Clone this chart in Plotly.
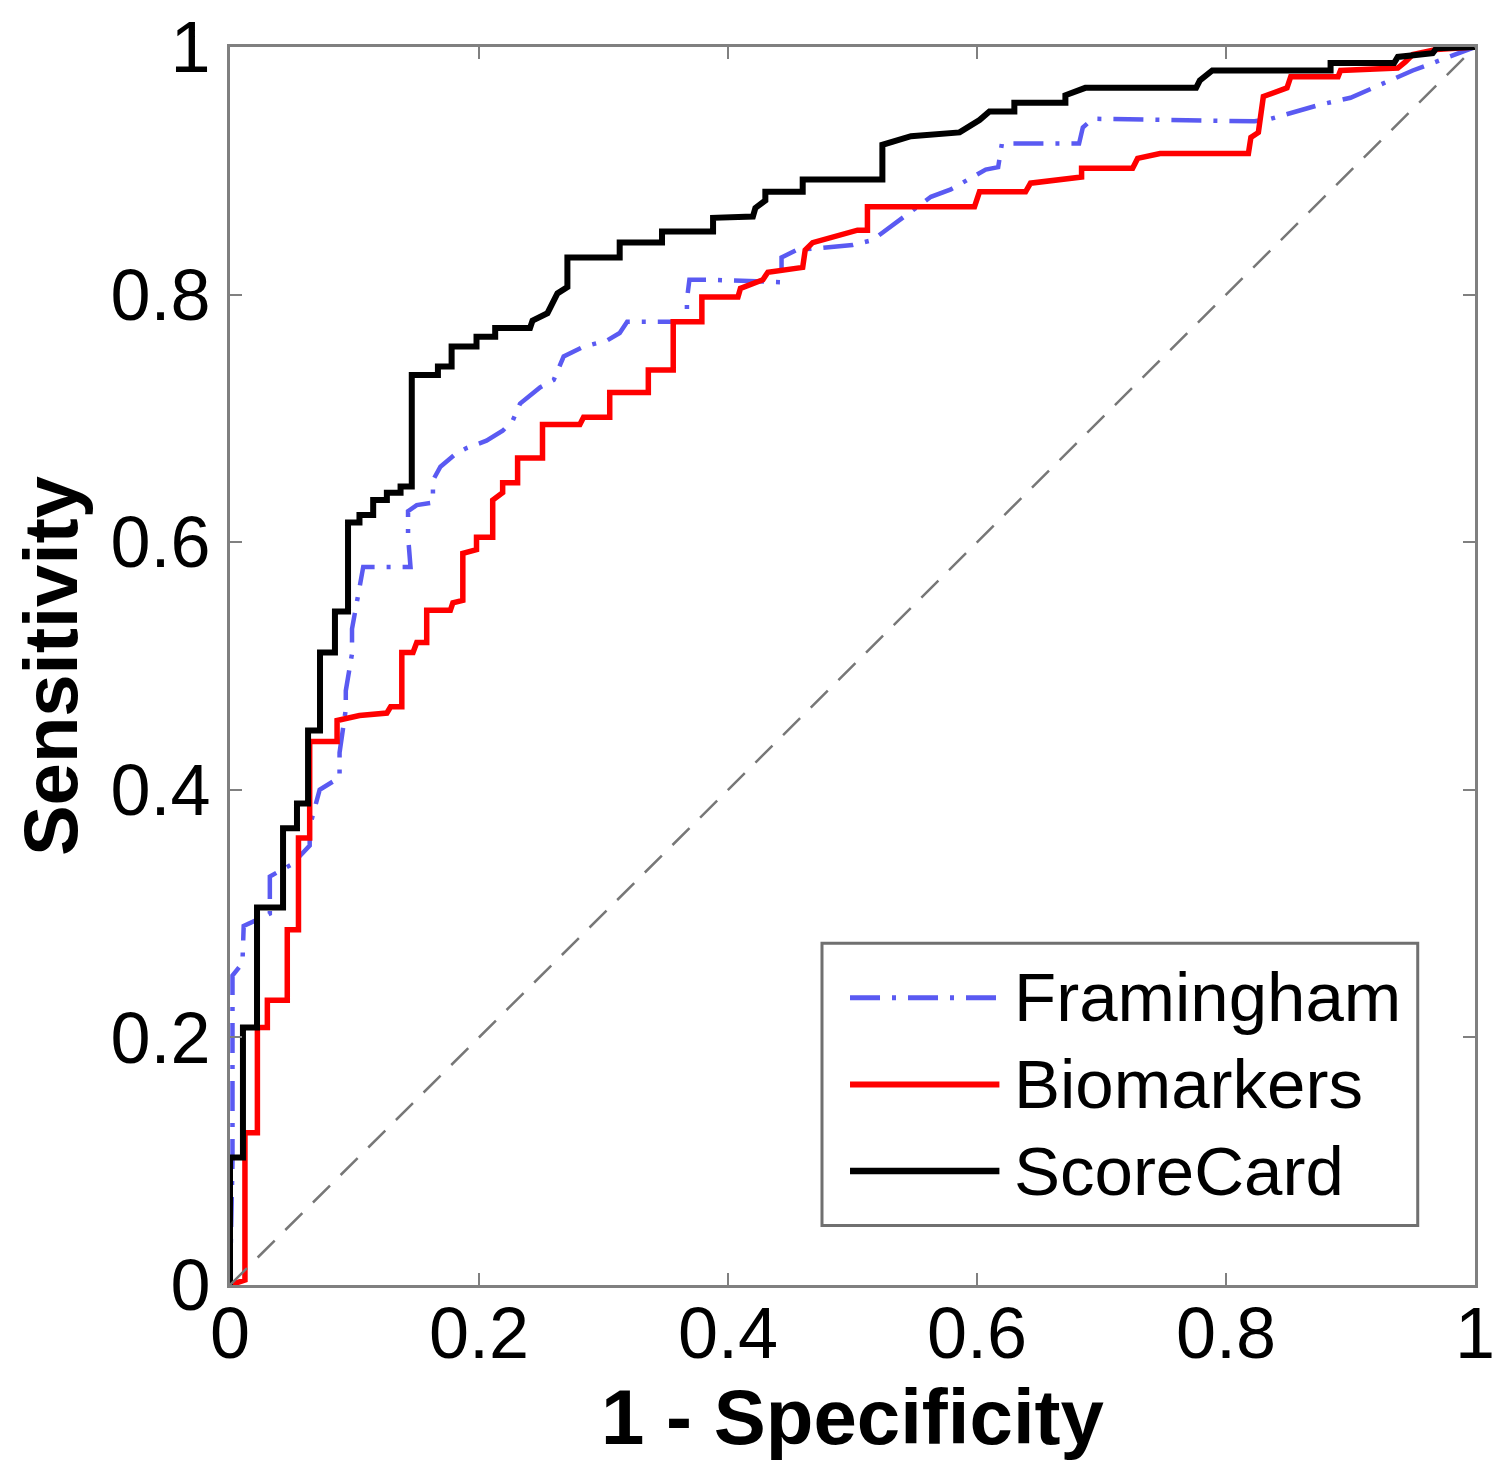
import plotly.graph_objs as go

# ROC curves (1 - specificity, sensitivity)
framingham_x = [0, 0.002, 0.002, 0.010, 0.011, 0.032, 0.032, 0.050, 0.064, 0.064, 0.072, 0.088, 0.088,
                0.093, 0.093, 0.098, 0.098, 0.107, 0.145, 0.143, 0.143, 0.150, 0.163, 0.163, 0.169,
                0.182, 0.190, 0.206, 0.219, 0.227, 0.233, 0.249, 0.260, 0.268, 0.284, 0.303, 0.313,
                0.319, 0.367, 0.367, 0.369, 0.386, 0.443, 0.443, 0.455, 0.500, 0.516, 0.538, 0.563,
                0.579, 0.593, 0.607, 0.617, 0.620, 0.682, 0.685, 0.693, 0.823, 0.836, 0.849, 0.874,
                0.900, 0.932, 0.950, 1]
framingham_y = [0, 0.10, 0.25, 0.26, 0.29, 0.30, 0.33, 0.34, 0.355, 0.37, 0.40, 0.41, 0.43,
                0.465, 0.48, 0.51, 0.53, 0.58, 0.58, 0.605, 0.625, 0.63, 0.632, 0.65, 0.661,
                0.672, 0.676, 0.682, 0.690, 0.698, 0.712, 0.725, 0.731, 0.750, 0.758, 0.763, 0.769,
                0.778, 0.778, 0.796, 0.812, 0.812, 0.810, 0.830, 0.836, 0.840, 0.844, 0.860, 0.879,
                0.885, 0.893, 0.901, 0.903, 0.922, 0.922, 0.935, 0.942, 0.940, 0.942, 0.946, 0.953,
                0.959, 0.973, 0.981, 1]

biomarkers_x = [0, 0.012, 0.012, 0.022, 0.022, 0.030, 0.030, 0.046, 0.046, 0.055, 0.055, 0.064, 0.064,
                0.086, 0.086, 0.104, 0.126, 0.129, 0.138, 0.138, 0.147, 0.150, 0.158, 0.158, 0.177,
                0.179, 0.187, 0.187, 0.198, 0.198, 0.211, 0.211, 0.219, 0.219, 0.231, 0.231, 0.251,
                0.251, 0.281, 0.284, 0.305, 0.305, 0.336, 0.336, 0.356, 0.356, 0.379, 0.379, 0.408,
                0.410, 0.428, 0.432, 0.460, 0.462, 0.468, 0.496, 0.504, 0.512, 0.512, 0.598, 0.602,
                0.639, 0.643, 0.684, 0.684, 0.725, 0.729, 0.747, 0.818, 0.820, 0.826, 0.830, 0.849,
                0.852, 0.890, 0.892, 0.938, 0.944, 0.950, 0.969, 1]
biomarkers_y = [0, 0.004, 0.123, 0.123, 0.208, 0.208, 0.230, 0.230, 0.287, 0.287, 0.361, 0.361, 0.439,
                0.439, 0.456, 0.460, 0.462, 0.467, 0.467, 0.511, 0.511, 0.519, 0.519, 0.545, 0.545,
                0.551, 0.553, 0.591, 0.594, 0.604, 0.604, 0.634, 0.640, 0.648, 0.648, 0.668, 0.668,
                0.695, 0.695, 0.701, 0.701, 0.721, 0.721, 0.739, 0.739, 0.778, 0.778, 0.798, 0.798,
                0.805, 0.812, 0.818, 0.822, 0.836, 0.842, 0.850, 0.852, 0.852, 0.871, 0.871, 0.883,
                0.883, 0.890, 0.895, 0.902, 0.902, 0.910, 0.914, 0.914, 0.927, 0.931, 0.960, 0.967,
                0.976, 0.976, 0.981, 0.983, 0.988, 0.994, 0.998, 1]

scorecard_x = [0, 0, 0.0104, 0.0104, 0.0217, 0.0217, 0.0426, 0.0426, 0.0538, 0.0538, 0.0627, 0.0627,
               0.0723, 0.0723, 0.0843, 0.0843, 0.0948, 0.0948, 0.104, 0.104, 0.115, 0.115, 0.126,
               0.126, 0.137, 0.137, 0.146, 0.146, 0.167, 0.167, 0.178, 0.178, 0.198, 0.198, 0.213,
               0.213, 0.241, 0.243, 0.255, 0.263, 0.271, 0.271, 0.313, 0.313, 0.347, 0.347, 0.388,
               0.388, 0.420, 0.422, 0.430, 0.430, 0.460, 0.460, 0.524, 0.524, 0.547, 0.586, 0.602,
               0.610, 0.630, 0.630, 0.671, 0.671, 0.687, 0.776, 0.779, 0.789, 0.884, 0.884, 0.935,
               0.938, 0.966, 0.969, 1]
scorecard_y = [0, 0.103, 0.103, 0.208, 0.208, 0.305, 0.305, 0.369, 0.369, 0.389, 0.389, 0.448,
               0.448, 0.511, 0.511, 0.544, 0.544, 0.616, 0.616, 0.622, 0.622, 0.634, 0.634,
               0.640, 0.640, 0.645, 0.645, 0.735, 0.735, 0.742, 0.742, 0.758, 0.758, 0.766, 0.766,
               0.773, 0.773, 0.779, 0.785, 0.801, 0.806, 0.830, 0.830, 0.842, 0.842, 0.851, 0.851,
               0.862, 0.863, 0.870, 0.876, 0.883, 0.883, 0.893, 0.893, 0.921, 0.928, 0.931, 0.941,
               0.948, 0.948, 0.955, 0.955, 0.961, 0.967, 0.967, 0.973, 0.981, 0.981, 0.987, 0.987,
               0.992, 0.995, 0.999, 1]

chance_x = [0, 1]
chance_y = [0, 1]

tick_vals = [0, 0.2, 0.4, 0.6, 0.8, 1]
tick_text = ["0", "0.2", "0.4", "0.6", "0.8", "1"]

series_names = ["Framingham", "Biomarkers", "ScoreCard"]
series_colors = ["#5a5af2", "#ff0000", "#000000"]
series_dash = ["30px,12px,4px,12px", "solid", "solid"]
series_width = [4.5, 5.5, 6]

font = "Liberation Sans, Arial, sans-serif"

fig = go.Figure()
for name, xs, ys, col, dash, w in zip(series_names,
                                      [framingham_x, biomarkers_x, scorecard_x],
                                      [framingham_y, biomarkers_y, scorecard_y],
                                      series_colors, series_dash, series_width):
    fig.add_trace(go.Scatter(x=xs, y=ys, mode="lines", name=name,
                             line=dict(color=col, width=w, dash=dash)))

fig.add_trace(go.Scatter(x=chance_x, y=chance_y, mode="lines", showlegend=False,
                         line=dict(color="#777777", width=2.5, dash="24px,15px")))

axis_style = dict(range=[0, 1], tickvals=tick_vals, ticktext=tick_text,
                  ticks="inside", ticklen=12, tickwidth=2, tickcolor="#808080",
                  showline=True, linecolor="#808080", linewidth=3, mirror="ticks",
                  showgrid=False, zeroline=False, ticklabeloverflow="allow",
                  automargin=False,
                  tickfont=dict(family=font, size=72, color="black"))

# page body adds an 8px offset, margins are shifted to compensate
fig.update_layout(
    width=1505, height=1481,
    margin=dict(l=222, r=38, t=39, b=204),
    paper_bgcolor="white", plot_bgcolor="white",
    showlegend=False,
    xaxis=dict(axis_style, ticklabelstandoff=-16,
               title=dict(text="<b>1 - Specificity</b>",
                          font=dict(family=font, size=78, color="black"),
                          standoff=14)),
    yaxis=dict(axis_style, ticklabelstandoff=2,
               title=dict(text="<b>Sensitivity</b>",
                          font=dict(family=font, size=76, color="black"),
                          standoff=19)),
)

# legend box drawn like the original (long line samples)
legend_x0, legend_x1, legend_y0, legend_y1 = 0.4755, 0.954, 0.048, 0.276
fig.add_shape(type="rect", xref="paper", yref="paper",
              x0=legend_x0, x1=legend_x1, y0=legend_y0, y1=legend_y1,
              line=dict(color="#707070", width=3), fillcolor="white", layer="above")
row_y = [0.232, 0.162, 0.092]
for name, col, dash, w, yy in zip(series_names, series_colors, series_dash, series_width, row_y):
    fig.add_shape(type="line", xref="paper", yref="paper", x0=0.498, x1=0.618, y0=yy, y1=yy,
                  line=dict(color=col, width=w + 0.5, dash=dash), layer="above")
    fig.add_annotation(xref="paper", yref="paper", x=0.628, y=yy, text=name, showarrow=False,
                       xanchor="left", yanchor="middle",
                       font=dict(family=font, size=69, color="black"))

fig.write_html("out.html")
